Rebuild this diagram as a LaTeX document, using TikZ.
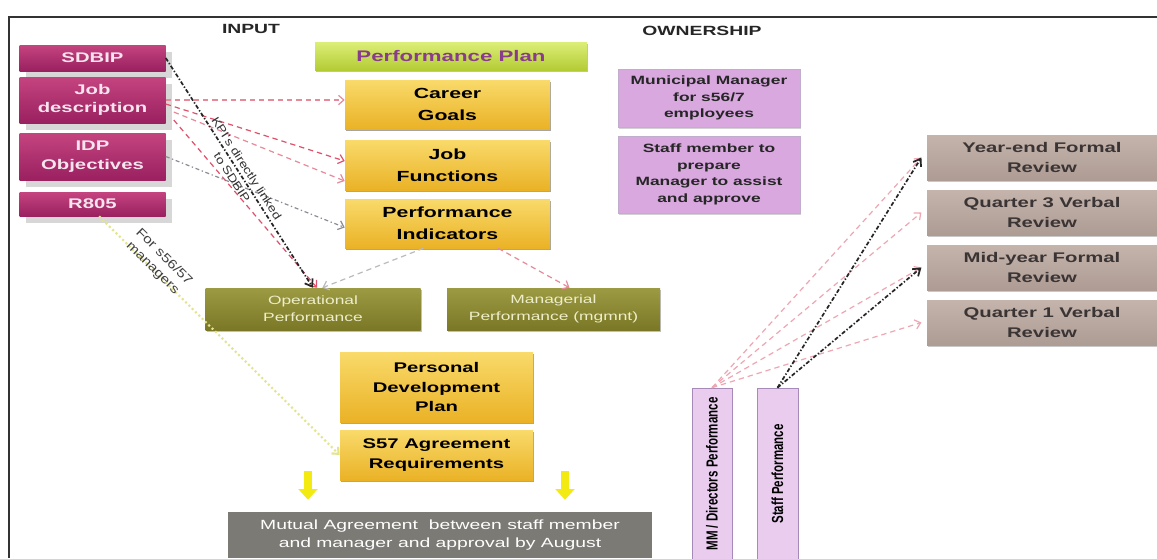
\documentclass[tikz,border=0pt]{standalone}
\usepackage{fontspec}
\setmainfont{Liberation Sans}
\newfontfamily\wide{Liberation Sans}[FakeStretch=1.45]
\newfontfamily\slantf{Liberation Sans}[FakeStretch=1.22]
\newfontfamily\narrowf{Liberation Sans}[FakeStretch=0.72]
\usetikzlibrary{arrows.meta,shadows}
\definecolor{magT}{HTML}{C4447F}
\definecolor{magB}{HTML}{9A2060}
\definecolor{magTxt}{HTML}{F6E4EE}
\definecolor{limeT}{HTML}{DCEE78}
\definecolor{limeB}{HTML}{B4CC34}
\definecolor{planTxt}{HTML}{8A3C8C}
\definecolor{yelT}{HTML}{F9DA6A}
\definecolor{yelB}{HTML}{EAB226}
\definecolor{oliveT}{HTML}{9C9A42}
\definecolor{oliveB}{HTML}{7A7826}
\definecolor{oliveTxt}{HTML}{EEEECB}
\definecolor{lilac}{HTML}{D8A8DF}
\definecolor{lilacV}{HTML}{EACCEE}
\definecolor{lilacE}{HTML}{A88AB8}
\definecolor{revT}{HTML}{C4B4AC}
\definecolor{revB}{HTML}{AE9C94}
\definecolor{revTxt}{HTML}{3A3434}
\definecolor{mutual}{HTML}{7C7A74}
\definecolor{pinkA}{HTML}{E8899A}
\definecolor{redA}{HTML}{E0506A}
\definecolor{grayA}{HTML}{8C8C96}
\definecolor{yelArrow}{HTML}{F2EA10}
\definecolor{yelDot}{HTML}{E4E48E}
\tikzset{
  sz/.style 2 args={minimum width=#1*0.75pt, minimum height=#2*0.75pt},
  box/.style={inner sep=1pt, align=center},
  magbox/.style={box, top color=magT, bottom color=magB, text=magTxt,
    font=\wide\bfseries\fontsize{10.5}{14}\selectfont,
    drop shadow={shadow xshift=5pt, shadow yshift=-5pt, opacity=0.22, fill=black!70}},
  thinshadow/.style={drop shadow={shadow xshift=1pt, shadow yshift=-1.5pt, opacity=#1, fill=black!70}},
  planbox/.style={box, top color=limeT, bottom color=limeB, text=planTxt,
    font=\wide\bfseries\fontsize{11.5}{14}\selectfont, thinshadow=0.35},
  yelbox/.style={box, top color=yelT, bottom color=yelB, text=black,
    font=\wide\bfseries\fontsize{11}{16.5}\selectfont, thinshadow=0.5},
  yelboxb/.style={yelbox, font=\wide\bfseries\fontsize{10.5}{14.5}\selectfont},
  olivebox/.style={box, top color=oliveT, bottom color=oliveB, text=oliveTxt,
    font=\wide\fontsize{9}{12.5}\selectfont, thinshadow=0.35},
  lilacbox/.style={box, fill=lilac, draw=lilacE!70, line width=0.4pt, text=black!85,
    font=\wide\bfseries\fontsize{9}{12.5}\selectfont, thinshadow=0.25},
  vbox/.style={box, fill=lilacV, draw=lilacE, line width=0.5pt, text=black},
  vtext/.style={rotate=90, font=\narrowf\bfseries\fontsize{12}{14}\selectfont},
  revbox/.style={box, top color=revT, bottom color=revB, text=revTxt,
    font=\wide\bfseries\fontsize{10.5}{15}\selectfont, thinshadow=0.3},
  mutbox/.style={box, fill=mutual, text=white,
    font=\wide\fontsize{10}{13}\selectfont},
  head/.style={font=\wide\bfseries\fontsize{10}{12}\selectfont, text=black!85},
  pinkarr/.style={draw=pinkA, line width=0.9pt, dash pattern=on 4pt off 3pt,
    -{Straight Barb[length=4pt,width=7pt]}},
  redarr/.style={pinkarr, draw=redA},
  grayarr/.style={draw=grayA, line width=0.9pt, dash pattern=on 3pt off 2pt on 1pt off 2pt,
    -{Straight Barb[length=4pt,width=7pt]}},
  blackarr/.style={draw=black!85, line width=1.3pt,
    dash pattern=on 3pt off 1.5pt on 1pt off 1.5pt,
    -{Straight Barb[length=5pt,width=7pt]}},
  dotarr/.style={draw=yelDot, line width=1.6pt, dash pattern=on 1.5pt off 2pt,
    -{Straight Barb[length=4pt,width=7pt]}},
  yarrow/.style={draw=yelArrow, line width=6.5pt,
    -{Triangle[width=14pt,length=8pt]}},
}
\begin{document}
\begin{tikzpicture}[x=0.75pt, y=-0.75pt]
\useasboundingbox (0,0) rectangle (1157,558);
\fill[white] (0,0) rectangle (1157,558);
% frame
\draw[line width=1.4pt, black!80] (9,558) -- (9,17) -- (1157,17);

% headings
\node[head] (input) at (251,29) {INPUT};
\node[head] (owner) at (702,31) {OWNERSHIP};

% input boxes
\node[magbox, sz={146}{26}] (sdbip) at (92.5,58) {SDBIP};
\node[magbox, sz={146}{46}] (job) at (92.5,100) {Job\\description};
\node[magbox, sz={146}{47}] (idp) at (92.5,156.5) {IDP\\Objectives};
\node[magbox, sz={146}{24}] (r805) at (92.5,204) {R805};

% performance plan
\node[planbox, sz={272}{28}] (plan) at (451,56) {Performance Plan};
\node[yelbox, sz={205}{49}] (career) at (447.5,104.5) {Career\\Goals};
\node[yelbox, sz={205}{50}] (jobf) at (447.5,165) {Job\\Functions};
\node[yelbox, sz={205}{49}] (pi) at (447.5,223.5) {Performance\\Indicators};

% ownership
\node[lilacbox, sz={182}{58}] (mm) at (709,98) {Municipal Manager\\for s56/7\\employees};
\node[lilacbox, sz={182}{77}] (staffm) at (709,174.5) {Staff member to\\prepare\\Manager to assist\\and approve};

% operational / managerial
\node[olivebox, sz={215}{42}] (op) at (313,309) {Operational\\Performance};
\node[olivebox, sz={213}{42}] (man) at (553.5,309) {Managerial\\Performance (mgmnt)};

% pdp / s57
\node[yelboxb, sz={193}{70}] (pdp) at (436.5,387) {Personal\\Development\\Plan};
\node[yelboxb, sz={193}{50}] (s57) at (436.5,455) {S57 Agreement\\Requirements};

% mutual agreement
\node[mutbox, sz={424}{46}] (mutual) at (440,535) {Mutual Agreement\ \ between staff member\\and manager and approval by August};

% vertical boxes
\node[vbox, sz={40}{172}] (mmv) at (712,474) {};
\node[vtext] (mmvt) at (mmv.center) {MM / Directors Performance};
\node[vbox, sz={41}{172}] (staffv) at (777.5,474) {};
\node[vtext] (staffvt) at (staffv.center) {Staff Performance};

% reviews
\node[revbox, sz={230}{45}] (yend) at (1042,157.5) {Year-end Formal\\Review};
\node[revbox, sz={230}{45}] (q3) at (1042,212.5) {Quarter 3 Verbal\\Review};
\node[revbox, sz={230}{45}] (mid) at (1042,267.5) {Mid-year Formal\\Review};
\node[revbox, sz={230}{45}] (q1) at (1042,322.5) {Quarter 1 Verbal\\Review};

% left connectors
\draw[pinkarr] (job.east) -- (job.east -| career.west);
\draw[redarr] ([yshift=-3pt]job.east) -- ([yshift=3pt]jobf.west);
\draw[pinkarr] ([xshift=6pt,yshift=-9pt]job.east) -- ([yshift=-12pt]jobf.west);
\draw[grayarr] (idp.east) -- ([yshift=-3pt]pi.west);
\draw[redarr] ([xshift=6pt,yshift=-15pt]job.east) -- ([xshift=3pt]op.north);
\draw[blackarr] (sdbip.east) -- node[sloped, align=center, text=black!80,
  font=\slantf\fontsize{8.5}{13}\selectfont, pos=0.5] (kpi) {KPI's directly linked\\to SDBIP} (op.north);
\draw[pinkarr, draw=grayA!60] ([xshift=-18pt]pi.south) -- ([xshift=7pt]op.north);
\draw[pinkarr] ([xshift=38pt]pi.south) -- ([xshift=12pt]man.north);
\draw[dotarr] ([xshift=5pt]r805.south) -- node[sloped, pos=0.22, above=-8pt, align=center, text=black!75,
  font=\slantf\fontsize{9.5}{12}\selectfont] (s5657) {For s56/57\\managers} (s57.west);

% yellow arrows
\coordinate (ya1) at (308,471);
\coordinate (ya2) at (565,471);
\draw[yarrow, shorten >=9pt] (ya1) -- (ya1 |- mutual.north);
\draw[yarrow, shorten >=9pt] (ya2) -- (ya2 |- mutual.north);

% right connectors
\draw[pinkarr, draw=pinkA!75] (mmv.north) -- ([xshift=-4pt]yend.west);
\draw[pinkarr, draw=pinkA!75] (mmv.north) -- ([xshift=-4pt]q3.west);
\draw[pinkarr, draw=pinkA!75] (mmv.north) -- ([xshift=-4pt]mid.west);
\draw[pinkarr, draw=pinkA!75] (mmv.north) -- ([xshift=-4pt]q1.west);
\draw[blackarr] (staffv.north) -- ([xshift=-4pt]yend.west);
\draw[blackarr] (staffv.north) -- ([xshift=-4pt]mid.west);
\end{tikzpicture}
\end{document}
